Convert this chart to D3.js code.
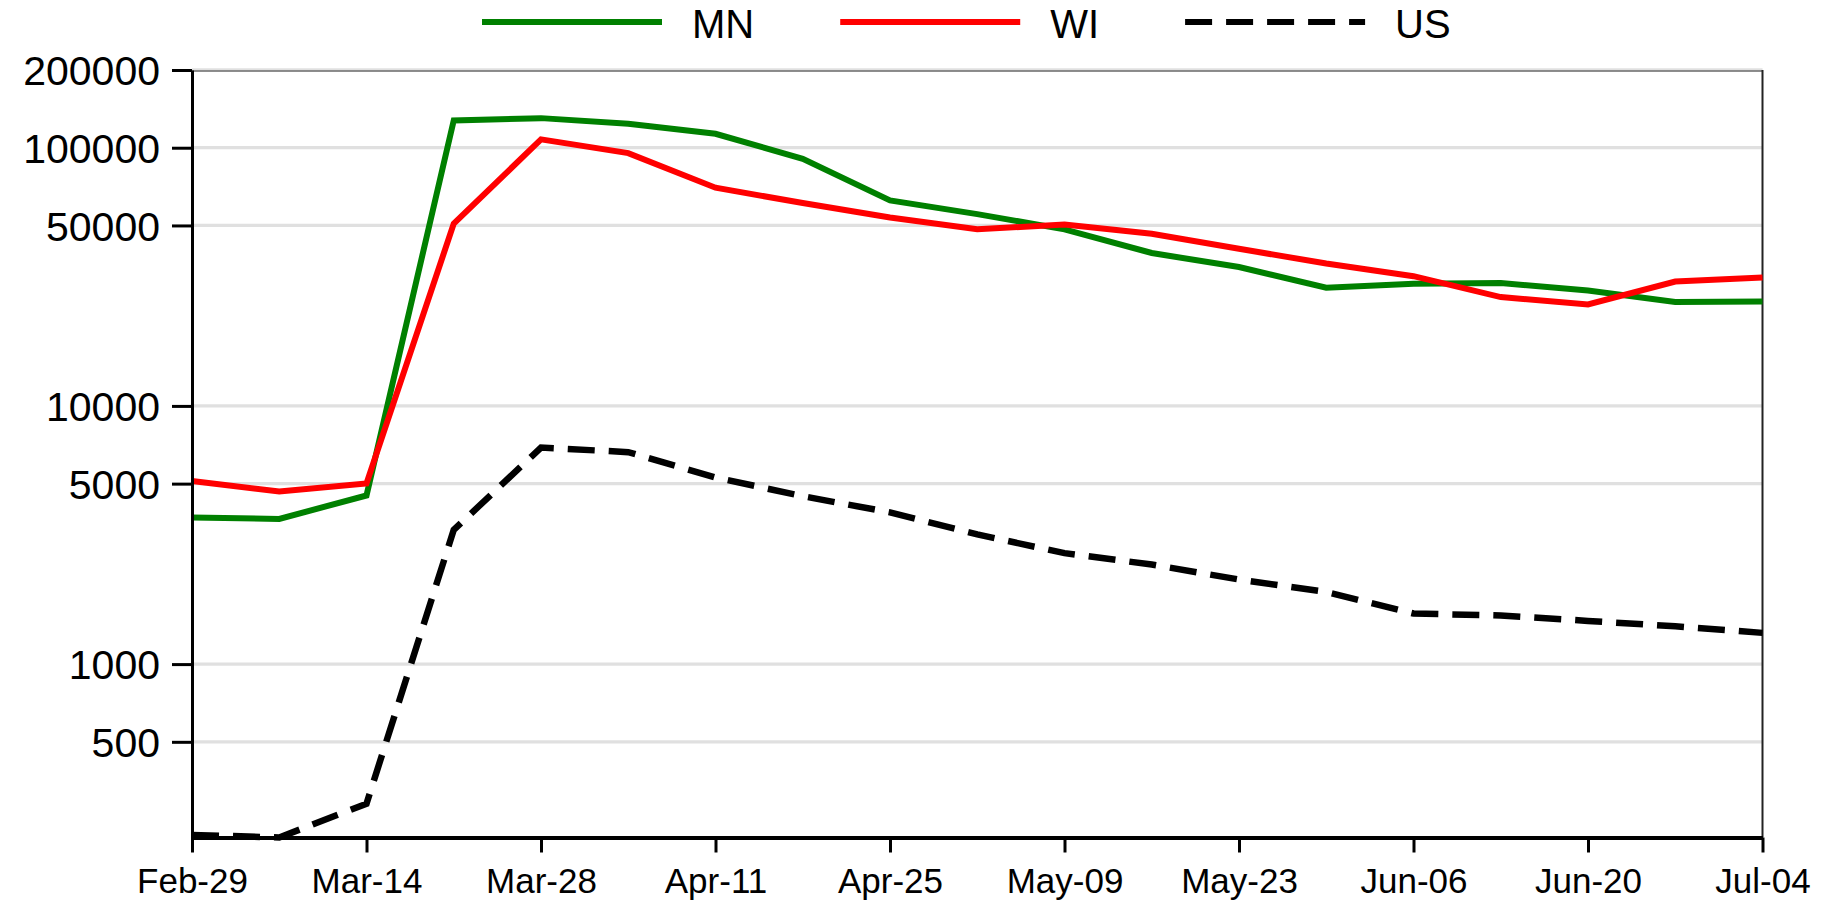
<!DOCTYPE html>
<meta charset="UTF-8">
<script src="https://cdn.jsdelivr.net/npm/d3@7"></script>
<style>
 body { margin:0; background:#fff; }
 svg text { font-family:"Liberation Sans", Arial, sans-serif; fill:#000; }
 .grid line { stroke:#e0e0e0; stroke-width:3.3px; }
 .series { fill:none; stroke-linejoin:miter; }
</style>
<svg id="chart"></svg>
<script>
 // weekly dates
 var dates = ["2020-02-29","2020-03-07","2020-03-14","2020-03-21","2020-03-28","2020-04-04",
              "2020-04-11","2020-04-18","2020-04-25","2020-05-02","2020-05-09","2020-05-16",
              "2020-05-23","2020-05-30","2020-06-06","2020-06-13","2020-06-20","2020-06-27","2020-07-04"];
 var mn = [3700, 3650, 4500, 127600, 130200, 123800, 113200, 90600, 62500, 55300, 48300, 39100,
           34500, 28700, 29750, 29900, 28000, 25250, 25400];
 var wi = [5115, 4660, 5010, 50800, 107700, 95300, 70000, 61100, 53700, 48300, 50400, 46400,
           40600, 35600, 31800, 26400, 24700, 30300, 31400];
 var us = [218, 213, 288, 3310, 6900, 6620, 5280, 4470, 3870, 3180, 2690, 2430,
           2126, 1903, 1570, 1542, 1470, 1401, 1321];
 var yTicks = [500, 1000, 5000, 10000, 50000, 100000, 200000];
 var xTicks = ["2020-02-29","2020-03-14","2020-03-28","2020-04-11","2020-04-25","2020-05-09",
               "2020-05-23","2020-06-06","2020-06-20","2020-07-04"];
 var seriesNames = ["MN", "WI", "US"];
 var seriesColors = ["#008000", "#ff0000", "#000000"];

 var width = 1821, height = 905;
 var margin = {top:70, right:58.5, bottom:67.5, left:192};
 var parse = d3.utcParse("%Y-%m-%d");

 var svg = d3.select("#chart").attr("width", width).attr("height", height);

 var x = d3.scaleUtc()
     .domain([parse(dates[0]), parse(dates[dates.length-1])])
     .range([margin.left, width - margin.right]);
 var y = d3.scaleLog()
     .domain([213, 200000])
     .range([height - margin.bottom, margin.top]);

 // gridlines
 svg.append("g").attr("class","grid")
    .selectAll("line").data(yTicks).enter().append("line")
    .attr("x1", x.range()[0]).attr("x2", x.range()[1])
    .attr("y1", function(d){return y(d);}).attr("y2", function(d){return y(d);});

 // frame (top and right)
 svg.append("line").attr("x1", x.range()[0]).attr("x2", x.range()[1])
    .attr("y1", y.range()[1]+1).attr("y2", y.range()[1]+1)
    .attr("stroke","#333").attr("stroke-width",1.2);
 svg.append("line").attr("x1", x.range()[1]).attr("x2", x.range()[1])
    .attr("y1", y.range()[1]).attr("y2", y.range()[0])
    .attr("stroke","#222").attr("stroke-width",2);

 // lines
 var all = [mn, wi, us];
 var line = d3.line()
     .x(function(d, i){return x(parse(dates[i]));})
     .y(function(d){return y(d);});
 all.forEach(function(vals, k) {
     svg.append("path").attr("class","series")
        .attr("d", line(vals))
        .attr("stroke", seriesColors[k])
        .attr("stroke-width", k == 2 ? 6.5 : 6)
        .attr("stroke-dasharray", k == 2 ? "27,14" : null);
 });

 // y axis
 var yAxis = svg.append("g")
     .attr("transform","translate("+margin.left+",0)")
     .call(d3.axisLeft(y).tickValues(yTicks).tickFormat(d3.format("d"))
           .tickSize(20).tickSizeOuter(0).tickPadding(12));
 yAxis.select(".domain").attr("stroke","#000").attr("stroke-width",3);
 yAxis.selectAll(".tick line").attr("stroke","#000").attr("stroke-width",3);
 yAxis.selectAll(".tick text").style("font-size","41px").attr("dy","0.36em");

 // x axis
 var xAxis = svg.append("g")
     .attr("transform","translate(0,"+(height-margin.bottom)+")")
     .call(d3.axisBottom(x).tickValues(xTicks.map(parse)).tickFormat(d3.utcFormat("%b-%d"))
           .tickSize(15).tickSizeOuter(0).tickPadding(16));
 xAxis.select(".domain").attr("stroke","#000").attr("stroke-width",4);
 xAxis.selectAll(".tick line").attr("stroke","#000").attr("stroke-width",3);
 xAxis.selectAll(".tick text").style("font-size","35px");

 // legend
 var lx = 482;
 seriesNames.forEach(function(name, k) {
     svg.append("line").attr("x1", lx).attr("x2", lx+180).attr("y1", 22).attr("y2", 22)
        .attr("stroke", seriesColors[k]).attr("stroke-width", 6)
        .attr("stroke-dasharray", k == 2 ? "27,14" : null);
     var t = svg.append("text").attr("x", lx+210).attr("y", 38)
        .style("font-size","40px").text(name);
     lx += 210 + t.node().getComputedTextLength() + 86;
 });
</script>
